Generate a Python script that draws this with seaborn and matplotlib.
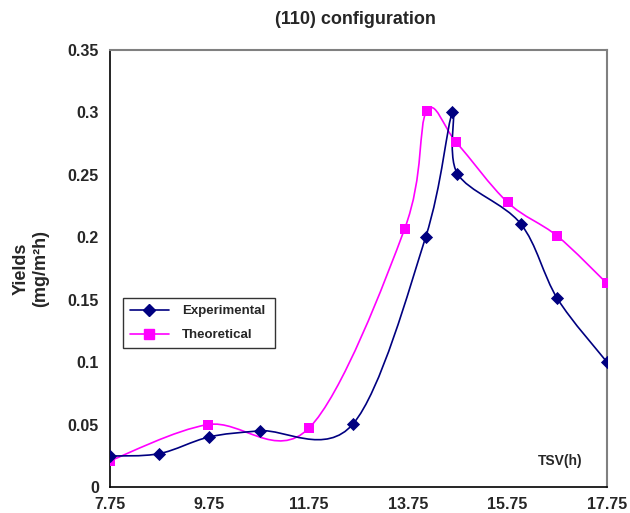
import numpy as np
import pandas as pd
import matplotlib
matplotlib.use("Agg")
import matplotlib.pyplot as plt
from matplotlib.path import Path
from matplotlib.patches import PathPatch
from matplotlib.lines import Line2D
import seaborn as sns

# values
exp_tsv = [7.75, 8.74, 9.74, 10.77, 12.64, 14.10, 14.64, 14.74, 16.01, 16.75, 17.75]
exp_yield = [0.0248, 0.0267, 0.040, 0.045, 0.0505, 0.200, 0.300, 0.251, 0.211, 0.151, 0.100]
theo_tsv = [7.75, 9.72, 11.75, 13.68, 14.12, 14.72, 15.75, 16.75, 17.75]
theo_yield = [0.021, 0.050, 0.047, 0.207, 0.301, 0.276, 0.228, 0.201, 0.163]
x_ticks = [7.75, 9.75, 11.75, 13.75, 15.75, 17.75]
y_ticks = [0, 0.05, 0.1, 0.15, 0.2, 0.25, 0.3, 0.35]

NAVY = "#000080"
MAGENTA = "#ff00ff"

sns.set_style("white")
plt.rcParams["font.family"] = ["Liberation Sans", "DejaVu Sans"]
plt.rcParams["font.weight"] = "bold"


def smooth_path(xs, ys):
    # excel style smoothed line: bezier segments, catmull-rom control points
    pts = np.column_stack([xs, ys])
    n = len(pts)
    verts = [pts[0]]
    codes = [Path.MOVETO]
    for i in range(n - 1):
        p0 = pts[max(i - 1, 0)]
        p1 = pts[i]
        p2 = pts[i + 1]
        p3 = pts[min(i + 2, n - 1)]
        c1 = p1 + (p2 - p0) / 6
        c2 = p2 - (p3 - p1) / 6
        verts += [c1, c2, p2]
        codes += [Path.CURVE4] * 3
    return Path(verts, codes)


fig = plt.figure(figsize=(6.3, 5.13), dpi=100)
ax = fig.add_axes([0.1746, 0.0507, 0.7889, 0.8518])

df_exp = pd.DataFrame({"tsv": exp_tsv, "yield": exp_yield})
df_theo = pd.DataFrame({"tsv": theo_tsv, "yield": theo_yield})

ax.add_patch(PathPatch(smooth_path(theo_tsv, theo_yield), fill=False,
                       edgecolor=MAGENTA, lw=1.2, zorder=2))
ax.add_patch(PathPatch(smooth_path(exp_tsv, exp_yield), fill=False,
                       edgecolor=NAVY, lw=1.2, zorder=3))

sns.scatterplot(data=df_theo, x="tsv", y="yield", marker="s", s=55,
                color=MAGENTA, edgecolor=MAGENTA, linewidth=0, ax=ax, zorder=4)
sns.scatterplot(data=df_exp, x="tsv", y="yield", marker="D", s=45,
                color=NAVY, edgecolor=NAVY, linewidth=0, ax=ax, zorder=5)

ax.set_xlim(7.75, 17.75)
ax.set_ylim(0, 0.35)
ax.set_xticks(x_ticks)
ax.set_xticklabels([f"{t:.2f}" for t in x_ticks])
ax.set_yticks(y_ticks)
ax.set_yticklabels(["0"] + [f"{t:g}" for t in y_ticks[1:]])
ax.tick_params(axis="both", direction="out", length=5, width=1, color="black",
               labelsize=11.5, pad=3)
ax.tick_params(axis="x", pad=2)
for lab in ax.get_xticklabels() + ax.get_yticklabels():
    lab.set_fontweight("bold")

for side in ["left", "bottom"]:
    ax.spines[side].set_color("black")
    ax.spines[side].set_linewidth(1.2)
for side in ["top", "right"]:
    ax.spines[side].set_color("#808080")
    ax.spines[side].set_linewidth(1.5)

ax.set_xlabel("")
ax.set_ylabel("Yields\n(mg/m\u00b2h)", fontsize=13, fontweight="bold", labelpad=13)
ax.text(0.905, 0.06, "TSV(h)", transform=ax.transAxes, fontsize=10,
        fontweight="bold", ha="center", va="center")
fig.text(0.5635, 0.962, "(110) configuration", fontsize=13, fontweight="bold",
         ha="center", va="center")

handles = [
    Line2D([], [], color=NAVY, marker="D", markersize=6.5, lw=1.2),
    Line2D([], [], color=MAGENTA, marker="s", markersize=6.5, lw=1.2),
]
leg = ax.legend(handles, ["Experimental", "Theoretical"],
                loc="lower left", bbox_to_anchor=(0.026, 0.318, 0.306, 0.117),
                mode="expand", fontsize=9.5, frameon=True, fancybox=False,
                edgecolor="black", borderpad=0.5, labelspacing=0.9,
                handlelength=3.0, handletextpad=1.0, borderaxespad=0)
leg.get_frame().set_linewidth(1.0)
for t in leg.get_texts():
    t.set_fontweight("bold")

fig.savefig("out.png", dpi=100)
